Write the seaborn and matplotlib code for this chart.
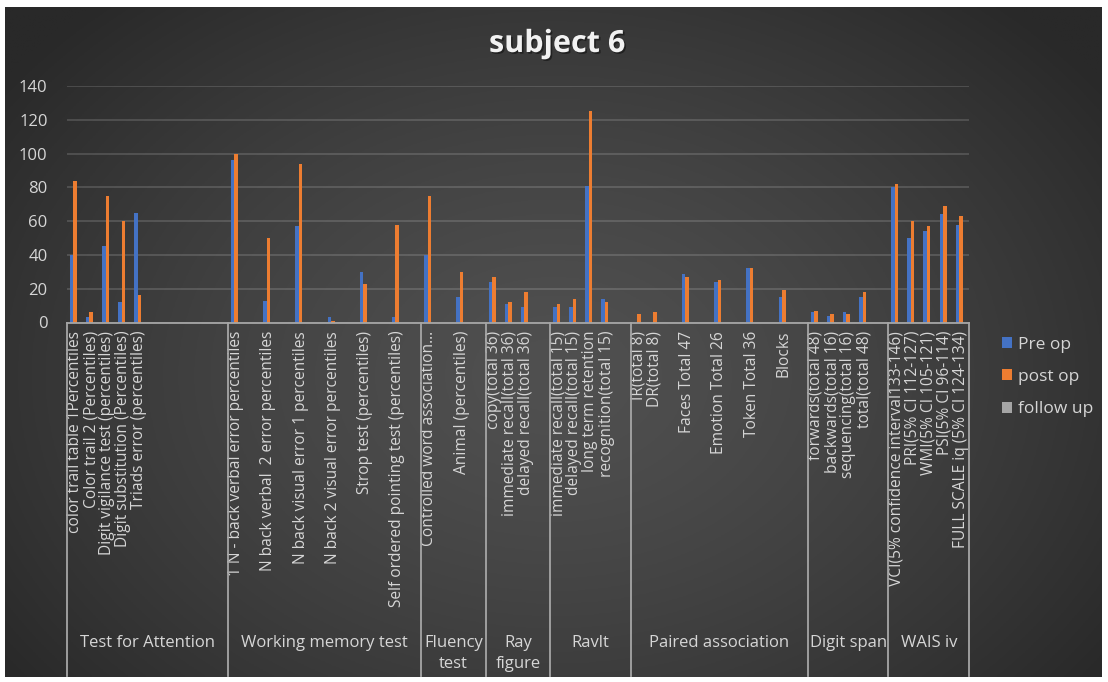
import numpy as np
import pandas as pd
import matplotlib
matplotlib.use("Agg")
import matplotlib.pyplot as plt
import matplotlib.patheffects as pe
from matplotlib.patches import Patch
from matplotlib.transforms import blended_transform_factory
import seaborn as sns

# ---- data ------------------------------------------------------------------
group_names = ["Test for Attention", "Working memory test", "Fluency\ntest",
               "Ray\nfigure", "Ravlt", "Paired association", "Digit span", "WAIS iv"]
group_sizes = [10, 12, 4, 4, 5, 11, 5, 5]

categories = [
    "color trail table 1Percentiles", "Color trail 2 (Percentiles)",
    "Digit vigilance test (percentiles)", "Digit substitution (Percentiles)",
    "Triads error (percentiles)", "", "", "", "", "",
    "1 N - back verbal error percentiles", "", "N back verbal  2 error percentiles", "",
    "N back visual error 1 percentiles", "", "N back 2 visual error percentiles", "",
    "Strop test (percentiles)", "", "Self ordered pointing test (percentiles)", "",
    "Controlled word association...", "", "Animal (percentiles)", "",
    "copy(total 36)", "immediate recall(total 36)", "delayed recall(total 36)", "",
    "immediate recall(total 15)", "delayed recall(total 15)", "long term retention",
    "recognition(total 15)", "",
    "IR(total 8)", "DR(total 8)", "", "Faces Total 47", "", "Emotion Total 26", "",
    "Token Total 36", "", "Blocks", "",
    "forwards(total 48)", "backwards(total 16)", "sequencing(total 16)", "total(total 48)", "",
    "VCI(5% confidence interval133-146)", "PRI(5% CI 112-127)", "WMI(5% CI 105-121)",
    "PSI(5% CI 96-114)", "FULL SCALE iq (5% CI 124-134)",
]

pre_op = [
    40, 3, 45, 12, 65, None, None, None, None, None,
    96, None, 13, None, 57, None, 3, None, 30, None, 3, None,
    40, None, 15, None,
    24, 11, 9, None,
    9, 9, 81, 14, None,
    0, 0, None, 29, None, 24, None, 32, None, 15, None,
    6, 4, 6, 15, None,
    80, 50, 54, 64, 58,
]

post_op = [
    84, 6, 75, 60, 16, None, None, None, None, None,
    100, None, 50, None, 94, None, 1, None, 23, None, 58, None,
    75, None, 30, None,
    27, 12, 18, None,
    11, 14, 125, 12, None,
    5, 6, None, 27, None, 25, None, 32, None, 19, None,
    7, 5, 5, 18, None,
    82, 60, 57, 69, 63,
]

follow_up = [None] * len(categories)

series_names = ["Pre op", "post op", "follow up"]
series_colors = ["#4472C4", "#ED7D31", "#A5A5A5"]
y_ticks = [0, 20, 40, 60, 80, 100, 120, 140]

# ---- long-format table for seaborn ------------------------------------------
slots = list(range(len(categories)))
df = pd.concat([
    pd.DataFrame({"slot": slots, "value": vals, "series": name})
    for name, vals in zip(series_names, [pre_op, post_op, follow_up])
], ignore_index=True)
df["value"] = pd.to_numeric(df["value"])

# ---- figure ----------------------------------------------------------------
W, H = 1108, 682
fig = plt.figure(figsize=(W / 100, H / 100), dpi=100, facecolor="white")
plt.rcParams["font.family"] = ["Open Sans", "DejaVu Sans"]
text_color = "#d6d6d6"


def fx(px):
    return px / W


def fy(py):
    return 1 - py / H


# dark radial background of the chart area
bg = fig.add_axes([fx(5), fy(677), fx(1102) - fx(5), fy(7) - fy(677)])
gx, gy = np.meshgrid(np.linspace(0, 1, 400), np.linspace(0, 1, 250))
d = np.sqrt(((gx - 0.50) / 0.62) ** 2 + ((gy - 0.55) / 0.75) ** 2)
d = np.clip(d, 0, 1) ** 1.4
inner = np.array([0x50, 0x50, 0x50]) / 255
outer = np.array([0x29, 0x29, 0x29]) / 255
img = inner[None, None, :] * (1 - d[..., None]) + outer[None, None, :] * d[..., None]
bg.imshow(img, aspect="auto", extent=[0, 1, 0, 1], origin="upper")
bg.axis("off")

# plot area
ax = fig.add_axes([fx(67), fy(322.5), fx(969) - fx(67), fy(86) - fy(322.5)])
ax.set_facecolor("none")
ax.set_zorder(2)

sns.barplot(data=df, x="slot", y="value", hue="series", order=slots,
            hue_order=series_names, palette=series_colors, width=0.65,
            saturation=1, errorbar=None, legend=False, ax=ax)

ax.set_xlim(-0.5, len(categories) - 0.5)
ax.set_ylim(0, 140)
ax.set_yticks(y_ticks)
ax.set_xticks(slots)
ax.set_xticklabels(categories)
ax.set_xlabel("")
ax.set_ylabel("")

ax.yaxis.grid(True, color="#ffffff", alpha=0.17, linewidth=1.2)
ax.xaxis.grid(False)
ax.set_axisbelow(True)
for side in ["top", "right", "left"]:
    ax.spines[side].set_visible(False)
ax.spines["bottom"].set_color("#a6a6a6")
ax.spines["bottom"].set_linewidth(1.3)

ax.tick_params(axis="x", length=0, pad=6, labelsize=11.2, labelcolor=text_color,
               labelrotation=90)
ax.tick_params(axis="y", length=0, pad=14, labelsize=12, labelcolor=text_color)

# group separators and group names below the category labels
tr = blended_transform_factory(ax.transData, fig.transFigure)
bounds = np.concatenate([[0], np.cumsum(group_sizes)]) - 0.5
for b in bounds:
    ax.plot([b, b], [fy(322.5), fy(676)], transform=tr, color="#a6a6a6",
            linewidth=1.3, clip_on=False)
for name, lo, hi in zip(group_names, bounds[:-1], bounds[1:]):
    ax.text((lo + hi) / 2, fy(635), name, transform=tr, ha="center", va="top",
            fontsize=12, color=text_color, linespacing=1.45)

# title
fig.text(fx(557), fy(44), "subject 6", ha="center", va="center", fontsize=22,
         fontweight="bold", color="#f2f2f2",
         path_effects=[pe.withSimplePatchShadow(offset=(1.2, -1.2),
                                                shadow_rgbFace="#111111", alpha=0.6)])

# legend
handles = [Patch(facecolor=c, edgecolor="none", label=n)
           for n, c in zip(series_names, series_colors)]
fig.legend(handles=handles, loc="center left", bbox_to_anchor=(fx(1002), fy(377)),
           frameon=False, fontsize=12.5, labelcolor=text_color, handlelength=0.6,
           handleheight=0.6, handletextpad=0.3, labelspacing=0.95,
           borderpad=0, borderaxespad=0)

fig.savefig("out.png", dpi=100, facecolor="white")
